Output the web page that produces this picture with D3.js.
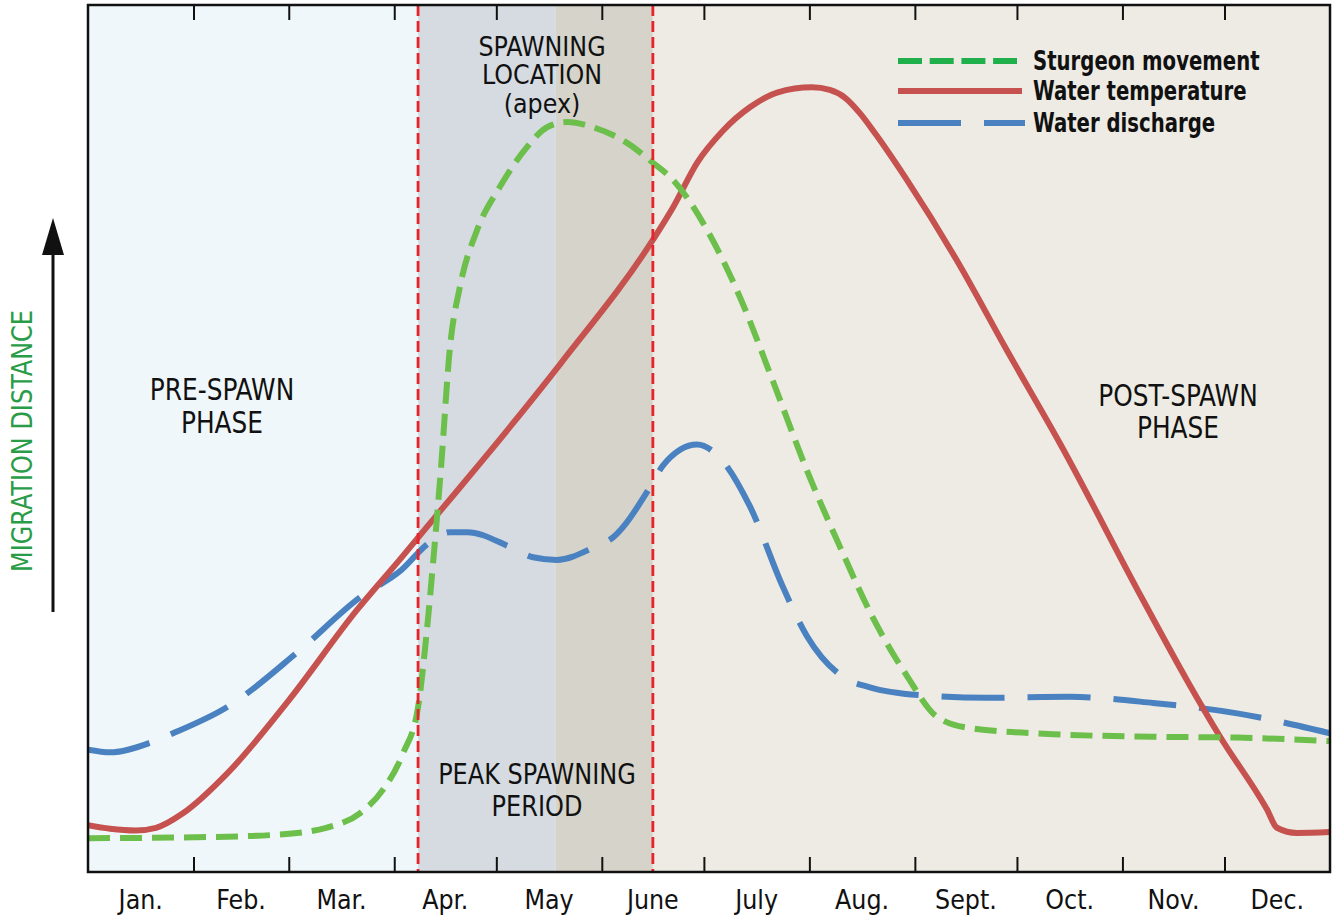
<!DOCTYPE html>
<html>
<head>
<meta charset="utf-8">
<script src="https://cdn.jsdelivr.net/npm/d3@7"></script>
<style>
  html, body { margin: 0; padding: 0; background: #ffffff; }
  svg { display: block; }
  .cond { font-family: "Liberation Sans Narrow", "Arial Narrow", "DejaVu Sans Condensed", "Roboto Condensed", sans-serif; font-stretch: condensed; }
</style>
</head>
<body>
<svg id="chart" width="1333" height="917"></svg>
<script>
// ---------- DATA (day of year, relative value 0-100) ----------
const monthLabels = ["Jan.", "Feb.", "Mar.", "Apr.", "May", "June", "July", "Aug.", "Sept.", "Oct.", "Nov.", "Dec."];

const sturgeonDays   = [0, 31, 55.5, 70, 80, 86.7, 92.6, 97, 99.6, 101.4, 103.7, 106.4, 109.3, 114.3, 121, 129, 134.9, 140.8, 148.4, 158.4, 166, 172, 182, 191.6, 201.3, 211.3, 221, 230.7, 240.7, 249.5, 259.2, 283.6, 313, 337.7, 365];
const sturgeonValues = [3.9, 4.0, 4.3, 5.1, 6.8, 9.5, 13.7, 19.0, 27.9, 35.6, 46.4, 60.6, 67.5, 74.0, 79.0, 83.6, 85.9, 86.5, 85.9, 84.1, 81.8, 79.8, 74.0, 66.3, 56.6, 46.3, 37.5, 29.3, 22.6, 17.9, 16.6, 15.9, 15.6, 15.5, 15.1];

const temperatureDays   = [0, 6.5, 14, 20, 28, 41, 59, 79, 92, 103, 116, 139, 166, 172, 179, 186.6, 194.5, 202.5, 212.8, 218, 222.5, 226.9, 231.3, 240.7, 255.4, 270, 285.7, 310, 323, 332.7, 346.5, 349.4, 355.3, 365];
const temperatureValues = [5.4, 5.0, 4.8, 5.1, 6.8, 11.4, 19.8, 30.2, 36.2, 41.4, 47.5, 58.7, 72.9, 76.7, 81.8, 85.5, 88.2, 89.9, 90.5, 90.2, 89.3, 87.5, 85.2, 79.8, 70.5, 60.2, 49.4, 31.4, 22.1, 15.6, 7.2, 5.1, 4.5, 4.6];

const dischargeDays   = [0, 6.5, 18.2, 25, 40.8, 61.4, 80, 92, 100, 106.4, 111.4, 124, 130.8, 137.8, 148.4, 154.3, 165.2, 169, 179, 184.9, 194.5, 204.2, 211.3, 221.9, 229.8, 244.5, 264.2, 288.6, 313, 337.7, 365];
const dischargeValues = [14.1, 13.8, 14.9, 16.0, 19.0, 25.3, 31.7, 34.8, 37.9, 39.2, 39.2, 37.5, 36.3, 36.0, 37.4, 38.6, 44.4, 46.9, 49.3, 48.1, 42.2, 32.9, 27.2, 22.5, 21.3, 20.4, 20.1, 20.2, 19.5, 18.3, 16.0];

// Phase boundaries (day of year)
const peakStartDay = 97;     // start of peak spawning period
const apexSplitDay = 137.5;  // shading change inside peak period
const peakEndDay   = 166;    // end of peak spawning period

const legendLabels = ["Sturgeon movement", "Water temperature", "Water discharge"];

// ---------- SETUP ----------
const W = 1333, H = 917;
const margin = { left: 88, right: 3, top: 5, bottom: 45 };
const svg = d3.select("#chart");
const t0 = Date.UTC(2023, 0, 1), t1 = Date.UTC(2024, 0, 1);
const dayDate = d => new Date(t0 + d * 864e5);

const x = d3.scaleUtc().domain([new Date(t0), new Date(t1)]).range([margin.left, W - margin.right]);
const y = d3.scaleLinear().domain([0, 100]).range([H - margin.bottom, margin.top]);

const colors = {
  pre: "#f0f7fa", peakA: "#d5dbe0", peakB: "#d6d4ca", post: "#edebe3",
  green: "#6dbf4b", greenLegend: "#1fb04b", red: "#c6524f", blue: "#4a81c1", vline: "#e8232a",
  ylabel: "#2a9c48"
};

// helper: squeeze text to a target width (condensed look)
function squeeze(sel, factor) {
  sel.each(function () {
    const w = this.getComputedTextLength();
    d3.select(this).attr("textLength", w * factor).attr("lengthAdjust", "spacingAndGlyphs");
  });
}

// ---------- BACKGROUND BANDS ----------
const bands = [
  { a: 0, b: peakStartDay, c: colors.pre },
  { a: peakStartDay, b: apexSplitDay, c: colors.peakA },
  { a: apexSplitDay, b: peakEndDay, c: colors.peakB },
  { a: peakEndDay, b: 365, c: colors.post }
];
svg.append("g").selectAll("rect").data(bands).join("rect")
  .attr("x", d => x(dayDate(d.a)))
  .attr("width", d => x(dayDate(d.b)) - x(dayDate(d.a)))
  .attr("y", y(100)).attr("height", y(0) - y(100))
  .attr("fill", d => d.c);

// ---------- CURVES ----------
const mk = (days, vals) => days.map((d, i) => ({ d, v: vals[i] }));
const line = d3.line().x(p => x(dayDate(p.d))).y(p => y(p.v)).curve(d3.curveMonotoneX);

svg.append("clipPath").attr("id", "plotclip").append("rect")
  .attr("x", x.range()[0]).attr("y", y(100)).attr("width", x.range()[1] - x.range()[0]).attr("height", y(0) - y(100));

const gLines = svg.append("g").attr("clip-path", "url(#plotclip)");
gLines.append("path").datum(mk(dischargeDays, dischargeValues))
  .attr("d", line).attr("fill", "none").attr("stroke", colors.blue)
  .attr("stroke-width", 6).attr("stroke-dasharray", "63,23");
gLines.append("path").datum(mk(temperatureDays, temperatureValues))
  .attr("d", line).attr("fill", "none").attr("stroke", colors.red)
  .attr("stroke-width", 6).attr("stroke-linejoin", "round");
gLines.append("path").datum(mk(sturgeonDays, sturgeonValues))
  .attr("d", line).attr("fill", "none").attr("stroke", colors.green)
  .attr("stroke-width", 6).attr("stroke-dasharray", "22,10");

// ---------- VERTICAL PEAK LINES ----------
svg.append("g").selectAll("line").data([peakStartDay, peakEndDay]).join("line")
  .attr("x1", d => x(dayDate(d))).attr("x2", d => x(dayDate(d)))
  .attr("y1", y(100)).attr("y2", y(0))
  .attr("stroke", colors.vline).attr("stroke-width", 2.8).attr("stroke-dasharray", "11,5");

// ---------- AXES / FRAME ----------
const monthTicks = d3.utcMonth.range(new Date(t0), new Date(t1)).slice(1);
svg.append("g").attr("transform", `translate(0,${y(0)})`)
  .call(d3.axisBottom(x).tickValues(monthTicks).tickSize(-15).tickFormat(""))
  .call(g => g.select(".domain").remove())
  .call(g => g.selectAll("line").attr("stroke", "#111").attr("stroke-width", 2));
svg.append("g").attr("transform", `translate(0,${y(100)})`)
  .call(d3.axisTop(x).tickValues(monthTicks).tickSize(-15).tickFormat(""))
  .call(g => g.select(".domain").remove())
  .call(g => g.selectAll("line").attr("stroke", "#111").attr("stroke-width", 2));

svg.append("rect")
  .attr("x", x.range()[0]).attr("y", y(100))
  .attr("width", x.range()[1] - x.range()[0]).attr("height", y(0) - y(100))
  .attr("fill", "none").attr("stroke", "#111").attr("stroke-width", 2.5);

// Month labels centred in each month
const monthStarts = d3.utcMonth.range(new Date(t0), new Date(t1));
svg.append("g").attr("class", "cond").selectAll("text").data(monthStarts).join("text")
  .attr("x", (d, i) => (x(d) + x(d3.utcMonth.offset(d, 1))) / 2)
  .attr("y", 909)
  .attr("text-anchor", "middle")
  .attr("font-size", 27).attr("fill", "#111")
  .text((d, i) => monthLabels[i])
  .call(squeeze, 0.98);

// ---------- Y LABEL + ARROW ----------
svg.append("text").attr("class", "cond")
  .attr("transform", "translate(32,441) rotate(-90)")
  .attr("text-anchor", "middle").attr("font-size", 29).attr("fill", colors.ylabel)
  .text("MIGRATION DISTANCE")
  .attr("textLength", 262).attr("lengthAdjust", "spacingAndGlyphs");
svg.append("line").attr("x1", 53).attr("x2", 53).attr("y1", 612).attr("y2", 250)
  .attr("stroke", "#111").attr("stroke-width", 3);
svg.append("path").attr("d", "M53,218 L42,255 L64,255 Z").attr("fill", "#111");

// ---------- ANNOTATIONS (multi-line text blocks) ----------
const notes = [
  { x: 222, y: [400, 433], t: ["PRE-SPAWN", "PHASE"], fs: 30, k: 0.92 },
  { x: 542, y: [56, 84, 113], t: ["SPAWNING", "LOCATION", "(apex)"], fs: 27, k: 0.98 },
  { x: 537, y: [784, 816], t: ["PEAK SPAWNING", "PERIOD"], fs: 29, k: 0.92 },
  { x: 1178, y: [406, 438], t: ["POST-SPAWN", "PHASE"], fs: 30, k: 0.92 }
];
const gNotes = svg.append("g").attr("class", "cond");
notes.forEach(n => {
  const txt = gNotes.append("text").attr("text-anchor", "middle")
    .attr("font-size", n.fs).attr("fill", "#111");
  n.t.forEach((s, i) => {
    txt.append("tspan").attr("x", n.x).attr("y", n.y[i]).text(s).call(squeeze, n.k);
  });
});

// ---------- LEGEND ----------
const lg = svg.append("g");
const legendItems = [
  { y: 61, c: colors.greenLegend, dash: "24,7.7", x2: 1017 },
  { y: 91, c: colors.red, dash: null, x2: 1022 },
  { y: 123, c: colors.blue, dash: "63,23", x2: 1025 }
];
legendItems.forEach((it, i) => {
  lg.append("line").attr("x1", 898).attr("x2", it.x2).attr("y1", it.y).attr("y2", it.y)
    .attr("stroke", it.c).attr("stroke-width", 6).attr("stroke-dasharray", it.dash);
  lg.append("text").attr("class", "cond").attr("x", 1033).attr("y", it.y + 9)
    .attr("font-size", 27).attr("font-weight", "bold").attr("fill", "#111").text(legendLabels[i])
    .call(squeeze, 0.81);
});
</script>
</body>
</html>
